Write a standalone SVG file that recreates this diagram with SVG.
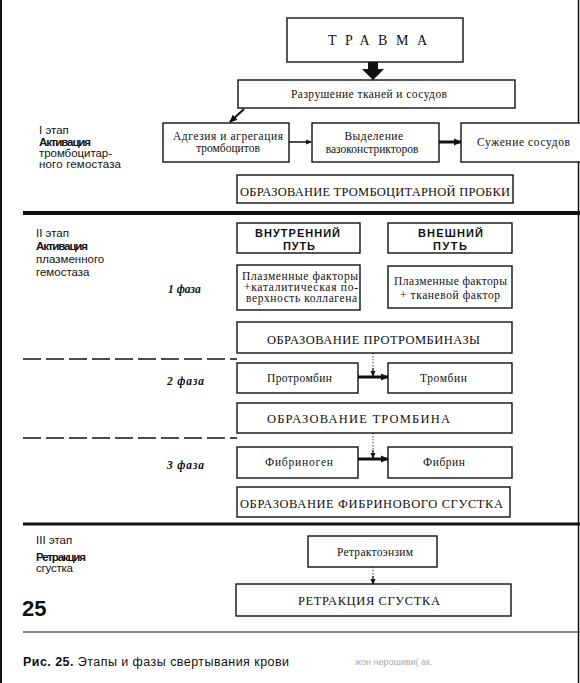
<svg xmlns="http://www.w3.org/2000/svg" width="580" height="683" viewBox="0 0 580 683">
<defs>
<style>
.box{fill:#fff;stroke:#111;stroke-width:1.4}
.t{font-family:"Liberation Serif","Times New Roman",serif;fill:#111;font-size:11.5px}
.c{font-family:"Liberation Serif","Times New Roman",serif;fill:#111;font-size:12.5px}
.s{font-family:"Liberation Sans",Arial,sans-serif;fill:#111;font-size:11.5px}
.b{font-weight:bold}
.ph{font-family:"Liberation Serif","Times New Roman",serif;fill:#111;font-size:11.5px;font-style:italic;font-weight:bold}
.mid{text-anchor:middle}
.conn{stroke:#111;fill:none}
.dot{stroke:#444;stroke-width:1;stroke-dasharray:1.5 1.5;fill:none}
.sep{stroke:#111;fill:none}
</style>
<marker id="ah" markerWidth="8" markerHeight="8" refX="7" refY="4" orient="auto" markerUnits="userSpaceOnUse">
<path d="M0,0.5 L8,4 L0,7.5 Z" fill="#111"/>
</marker>
<marker id="ahs" markerWidth="6" markerHeight="6" refX="5" refY="3" orient="auto" markerUnits="userSpaceOnUse">
<path d="M0,0.5 L6,3 L0,5.5 Z" fill="#111"/>
</marker>
</defs>
<rect width="580" height="683" fill="#fff"/>
<g id="frame">
<line x1="1" y1="0" x2="1" y2="683" stroke="#111" stroke-width="2"/>
<line x1="578.5" y1="0" x2="578.5" y2="683" stroke="#111" stroke-width="1.5"/>
</g>
<g id="separators">
<line class="sep" x1="23" y1="213" x2="580" y2="213" stroke-width="4"/>
<line class="sep" x1="23" y1="359" x2="237" y2="359" stroke-width="1.5" stroke-dasharray="18 5"/>
<line class="sep" x1="23" y1="438" x2="237" y2="438" stroke-width="1.5" stroke-dasharray="18 5"/>
<line class="sep" x1="23" y1="524" x2="580" y2="524" stroke-width="3"/>
<line class="sep" x1="23" y1="632" x2="580" y2="632" stroke-width="1.2"/>
</g>
<g id="labels">
<text class="s" x="39" y="134">I этап</text>
<text class="s" x="39" y="145.5" style="font-weight:600" textLength="52">Активация</text>
<text class="s" x="39" y="156.5" textLength="73">тромбоцитар-</text>
<text class="s" x="39" y="167.5" textLength="82">ного гемостаза</text>
<text class="s" x="36" y="237">II этап</text>
<text class="s" x="36" y="250" style="font-weight:600" textLength="52">Активация</text>
<text class="s" x="36" y="263">плазменного</text>
<text class="s" x="36" y="276">гемостаза</text>
<text class="ph" x="168" y="293">1 фаза</text>
<text class="ph" x="167" y="385" textLength="37">2 фаза</text>
<text class="ph" x="167" y="469" textLength="37">3 фаза</text>
<text class="s" x="36" y="544">III этап</text>
<text class="s" x="36" y="561" style="font-weight:600" textLength="50">Ретракция</text>
<text class="s" x="36" y="572" textLength="37">сгустка</text>
<text class="s" x="22" y="616" style="font-size:22px;font-weight:bold">25</text>
<text class="s" x="23" y="666" style="font-size:12.5px" textLength="266"><tspan font-weight="bold">Рис. 25.</tspan> Этапы и фазы свертывания крови</text>
<text x="355" y="665" style="font-family:'Liberation Sans',Arial,sans-serif;font-size:9px;fill:#aaa">жон нерошиви( ак.</text>
</g>
<g id="connectors">
<polygon points="368,62 378,62 378,69 384,69 373,80 362,69 368,69" fill="#111"/>
<line class="conn" x1="244" y1="109" x2="230" y2="122" stroke-width="2" marker-end="url(#ah)"/>
<line class="conn" x1="289" y1="142" x2="311" y2="142" stroke-width="1.5" marker-end="url(#ahs)"/>
<line class="conn" x1="439" y1="142" x2="461" y2="142" stroke-width="3" marker-end="url(#ah)"/>
<line class="dot" x1="373" y1="353" x2="373" y2="370"/>
<line class="conn" x1="373" y1="368" x2="373" y2="376" stroke-width="1.2" marker-end="url(#ahs)"/>
<line class="conn" x1="358" y1="377" x2="388" y2="377" stroke-width="3" marker-end="url(#ah)"/>
<line class="dot" x1="373" y1="433" x2="373" y2="452"/>
<line class="conn" x1="373" y1="450" x2="373" y2="458" stroke-width="1.2" marker-end="url(#ahs)"/>
<line class="conn" x1="358" y1="459" x2="388" y2="459" stroke-width="3" marker-end="url(#ah)"/>
<line class="dot" x1="373" y1="567" x2="373" y2="578"/>
<line class="conn" x1="373" y1="576" x2="373" y2="584" stroke-width="1.2" marker-end="url(#ahs)"/>
</g>
<g id="trauma">
<rect class="box" x="287" y="18" width="176" height="44" stroke-width="1.8"/>
<text class="t" x="328" y="45" style="font-size:14px" textLength="99">ТРАВМА</text>
</g>
<g id="destruction">
<rect class="box" x="238" y="80" width="277" height="28"/>
<text class="t" x="291" y="98" textLength="156">Разрушение  тканей и сосудов</text>
</g>
<g id="adhesion">
<rect class="box" x="163" y="123" width="126" height="39"/>
<text class="t" x="173" y="140" textLength="110">Адгезия и агрегация</text>
<text class="t mid" x="228" y="152">тромбоцитов</text>
</g>
<g id="vasoconstrictors">
<rect class="box" x="312" y="123" width="127" height="39"/>
<text class="t mid" x="374" y="140" letter-spacing="0.5">Выделение</text>
<text class="t mid" x="372" y="153">вазоконстрикторов</text>
</g>
<g id="narrowing">
<rect class="box" x="461" y="123" width="130" height="39"/>
<text class="t" x="477" y="146" textLength="93">Сужение  сосудов</text>
</g>
<g id="plug">
<rect class="box" x="237" y="175" width="276" height="28"/>
<text class="c" x="240" y="196" textLength="270">ОБРАЗОВАНИЕ ТРОМБОЦИТАРНОЙ ПРОБКИ</text>
</g>
<g id="intrinsic">
<rect class="box" x="237" y="223" width="123" height="30"/>
<text class="s b" x="255" y="237" style="font-size:11px" textLength="85">ВНУТРЕННИЙ</text>
<text class="s b" x="283" y="250" style="font-size:11px" textLength="32">ПУТЬ</text>
</g>
<g id="extrinsic">
<rect class="box" x="388" y="223" width="124" height="30"/>
<text class="s b" x="418" y="237" style="font-size:11px" textLength="65">ВНЕШНИЙ</text>
<text class="s b" x="433" y="250" style="font-size:11px" textLength="34">ПУТЬ</text>
</g>
<g id="intrinsic-factors">
<rect class="box" x="237" y="265" width="123" height="45"/>
<text class="t" x="242" y="280" textLength="116">Плазменные факторы</text>
<text class="t" x="244" y="291" textLength="114">+каталитическая по-</text>
<text class="t" x="246" y="302" textLength="111">верхность коллагена</text>
</g>
<g id="extrinsic-factors">
<rect class="box" x="388" y="266" width="124" height="42"/>
<text class="t" x="394" y="285" textLength="113">Плазменные факторы</text>
<text class="t" x="400" y="299" textLength="100">+  тканевой фактор</text>
</g>
<g id="prothrombinase">
<rect class="box" x="237" y="322" width="275" height="31"/>
<text class="c" x="267" y="344" textLength="213">ОБРАЗОВАНИЕ  ПРОТРОМБИНАЗЫ</text>
</g>
<g id="prothrombin">
<rect class="box" x="237" y="363" width="121" height="30"/>
<text class="t" x="267" y="382" textLength="65">Протромбин</text>
</g>
<g id="thrombin">
<rect class="box" x="388" y="363" width="124" height="30"/>
<text class="t" x="420" y="382" textLength="47">Тромбин</text>
</g>
<g id="thrombin-formation">
<rect class="box" x="237" y="403" width="275" height="30"/>
<text class="c" x="267" y="423" textLength="183">ОБРАЗОВАНИЕ ТРОМБИНА</text>
</g>
<g id="fibrinogen">
<rect class="box" x="237" y="447" width="121" height="31"/>
<text class="t" x="265" y="466" textLength="68">Фибриноген</text>
</g>
<g id="fibrin">
<rect class="box" x="388" y="447" width="124" height="31"/>
<text class="t" x="423" y="466" textLength="42">Фибрин</text>
</g>
<g id="clot">
<rect class="box" x="237" y="487" width="273" height="30"/>
<text class="c" x="240" y="508" textLength="263">ОБРАЗОВАНИЕ ФИБРИНОВОГО СГУСТКА</text>
</g>
<g id="retractoenzyme">
<rect class="box" x="308" y="536" width="129" height="31"/>
<text class="t" x="337" y="556" textLength="76">Ретрактоэнзим</text>
</g>
<g id="retraction">
<rect class="box" x="236" y="584" width="275" height="32" stroke-width="1.6"/>
<text class="c" x="298" y="605" textLength="142">РЕТРАКЦИЯ СГУСТКА</text>
</g>
</svg>
